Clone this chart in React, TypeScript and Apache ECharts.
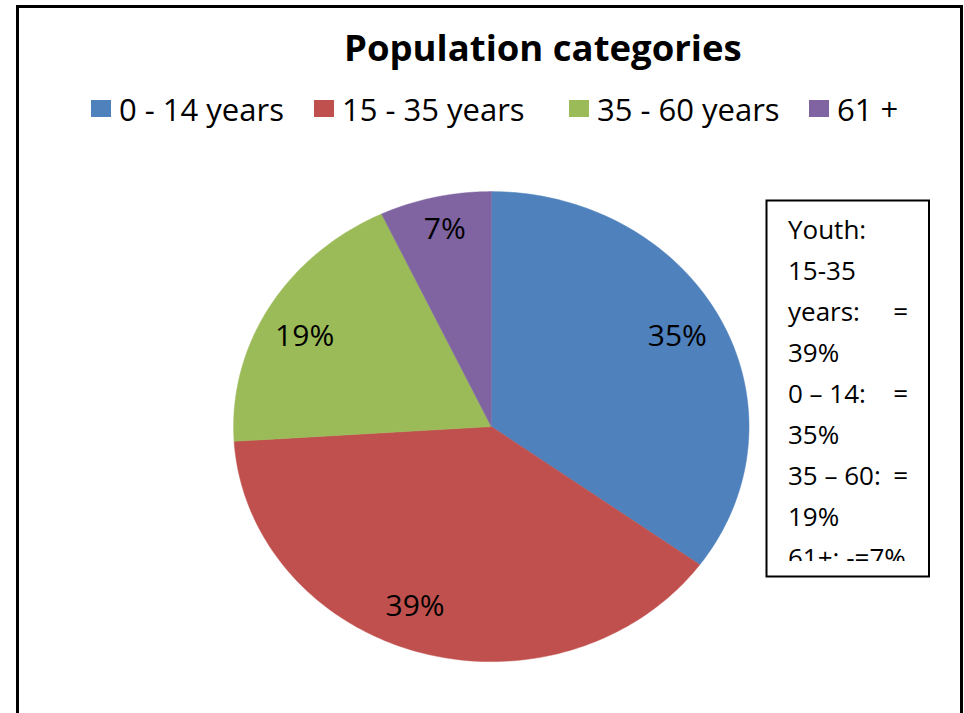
import React, { useEffect, useRef } from "react";
import * as echarts from "echarts";

const categories = ["0 - 14 years", "15 - 35 years", "35 - 60 years", "61 +"];
const shares = [35, 39, 19, 7];
const sliceColors = ["#4F81BD", "#C0504D", "#9BBB59", "#8064A2"];
const titleText = "Population categories";
const noteLeft = ["Youth:", "15-35", "years:", "39%", "0 \u2013 14:", "35%", "35 \u2013 60:", "19%", "61+: -=7%"];
const noteRight = ["", "", "=", "", "=", "", "=", "", ""];

// layout constants
const CX = 491.3;
const CY = 426.6;
const RX = 257.7;
const RY = 235;
const LABEL_FRAC = 0.81;
const labelNudge = [[0, -6], [-18, -5], [-7, 5], [-1, -13]];
const legendX = [91, 314, 569, 809];
const FONT = "'Open Sans', 'Noto Sans', sans-serif";

export default function App() {
  const ref = useRef<HTMLDivElement>(null);

  useEffect(() => {
    if (!ref.current) return;
    const chart = echarts.init(ref.current, undefined, { renderer: "svg" });
    const total = shares.reduce((a, b) => a + b, 0);

    const series = categories.map((name, i) => {
      const start = shares.slice(0, i).reduce((a, b) => a + b, 0);
      return {
        type: "custom",
        name,
        coordinateSystem: "none",
        data: [shares[i]],
        itemStyle: { color: sliceColors[i] },
        renderItem: (params: any, api: any) => {
          const v = api.value(0);
          const t0 = (start / total) * Math.PI * 2;
          const t1 = ((start + v) / total) * Math.PI * 2;
          const n = 120;
          const pts: number[][] = [[CX, CY]];
          for (let k = 0; k <= n; k++) {
            const t = t0 + ((t1 - t0) * k) / n;
            pts.push([CX + RX * Math.sin(t), CY - RY * Math.cos(t)]);
          }
          const tm = (t0 + t1) / 2;
          return {
            type: "group",
            children: [
              {
                type: "polygon",
                shape: { points: pts },
                style: { fill: sliceColors[i], stroke: sliceColors[i], lineWidth: 0.5 },
              },
              {
                type: "text",
                x: CX + LABEL_FRAC * RX * Math.sin(tm) + labelNudge[i][0],
                y: CY - LABEL_FRAC * RY * Math.cos(tm) + labelNudge[i][1],
                style: {
                  text: Math.round((v / total) * 100) + "%",
                  fill: "#000",
                  fontSize: 30,
                  fontFamily: FONT,
                  align: "center",
                  verticalAlign: "middle",
                },
              },
            ],
          };
        },
      };
    });

    const noteTexts: any[] = [];
    noteLeft.forEach((t, i) => {
      noteTexts.push({
        type: "text",
        x: 788,
        y: 228.5 + 41 * i,
        style: { text: t, fill: "#000", fontSize: 26, fontFamily: FONT, verticalAlign: "middle" },
      });
      if (noteRight[i]) {
        noteTexts.push({
          type: "text",
          x: 908,
          y: 228.5 + 41 * i,
          style: { text: noteRight[i], fill: "#000", fontSize: 26, fontFamily: FONT, align: "right", verticalAlign: "middle" },
        });
      }
    });

    chart.setOption({
      animation: false,
      backgroundColor: "#fff",
      title: {
        text: titleText,
        left: 344,
        top: 28,
        padding: 0,
        textStyle: { fontSize: 36.5, fontWeight: "bold", fontFamily: FONT, color: "#000" },
      },
      legend: categories.map((name, i) => ({
        data: [name],
        left: legendX[i],
        top: 93,
        padding: 0,
        icon: "rect",
        itemWidth: 20,
        itemHeight: 17,
        selectedMode: false,
        textStyle: { fontSize: 31, fontFamily: FONT, color: "#000", padding: [0, 0, 0, 3] },
      })),
      series,
      graphic: [
        {
          type: "rect",
          shape: { x: 17.5, y: 6.5, width: 944, height: 720 },
          style: { fill: "none", stroke: "#000", lineWidth: 3 },
        },
        ...noteTexts,
        {
          type: "rect",
          shape: { x: 767, y: 561, width: 161, height: 15 },
          style: { fill: "#fff" },
        },
        {
          type: "rect",
          shape: { x: 766.5, y: 200.5, width: 162.5, height: 376 },
          style: { fill: "none", stroke: "#000", lineWidth: 2 },
        },
      ],
    });
    return () => chart.dispose();
  }, []);

  return (
    <div
      ref={ref}
      style={{ position: "absolute", left: 0, top: 0, width: 964, height: 713, background: "#fff" }}
    />
  );
}
